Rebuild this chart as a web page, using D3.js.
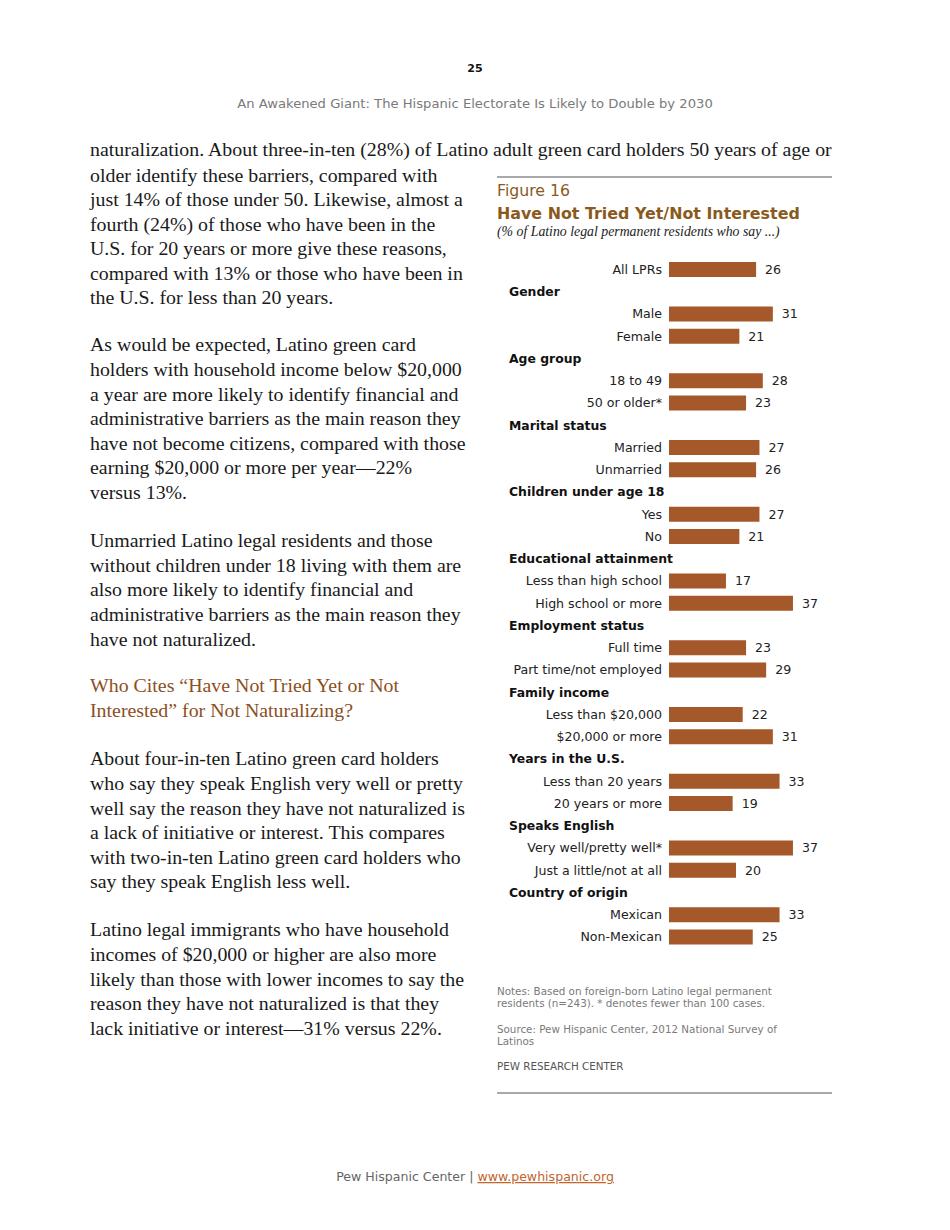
<!DOCTYPE html>
<html><head><meta charset="utf-8">
<script src="https://cdn.jsdelivr.net/npm/d3@7"></script>
<style>html,body{margin:0;padding:0;background:#fff;}svg{display:block;}</style>
</head><body>
<script>
// ---- data ----
const rowLabels = ["All LPRs","Gender","Male","Female","Age group","18 to 49","50 or older*","Marital status","Married","Unmarried","Children under age 18","Yes","No","Educational attainment","Less than high school","High school or more","Employment status","Full time","Part time/not employed","Family income","Less than $20,000","$20,000 or more","Years in the U.S.","Less than 20 years","20 years or more","Speaks English","Very well/pretty well*","Just a little/not at all","Country of origin","Mexican","Non-Mexican"];
const rowValues = [26,null,31,21,null,28,23,null,27,26,null,27,21,null,17,37,null,23,29,null,22,31,null,33,19,null,37,20,null,33,25];
const figureLabel = "Figure 16";
const chartTitle = "Have Not Tried Yet/Not Interested";
const chartSubtitle = "(% of Latino legal permanent residents who say ...)";
const notes = ["Notes: Based on foreign-born Latino legal permanent","residents (n=243). * denotes fewer than 100 cases."];
const source = ["Source: Pew Hispanic Center, 2012 National Survey of","Latinos"];
const credit = "PEW RESEARCH CENTER";
const pageNumber = "25";
const runningHead = "An Awakened Giant: The Hispanic Electorate Is Likely to Double by 2030";
const bodyLines = [
 ["naturalization. About three-in-ten (28%) of Latino adult green card holders 50 years of age or",150,"p"],
 ["older identify these barriers, compared with",176,"p"],
 ["just 14% of those under 50. Likewise, almost a",200,"p"],
 ["fourth (24%) of those who have been in the",225,"p"],
 ["U.S. for 20 years or more give these reasons,",249,"p"],
 ["compared with 13% or those who have been in",274,"p"],
 ["the U.S. for less than 20 years.",298,"p"],
 ["As would be expected, Latino green card",345,"p"],
 ["holders with household income below $20,000",370,"p"],
 ["a year are more likely to identify financial and",395,"p"],
 ["administrative barriers as the main reason they",419,"p"],
 ["have not become citizens, compared with those",444,"p"],
 ["earning $20,000 or more per year\u201422%",468,"p"],
 ["versus 13%.",493,"p"],
 ["Unmarried Latino legal residents and those",541,"p"],
 ["without children under 18 living with them are",566,"p"],
 ["also more likely to identify financial and",590,"p"],
 ["administrative barriers as the main reason they",615,"p"],
 ["have not naturalized.",640,"p"],
 ["Who Cites \u201cHave Not Tried Yet or Not",686,"h"],
 ["Interested\u201d for Not Naturalizing?",711,"h"],
 ["About four-in-ten Latino green card holders",759,"p"],
 ["who say they speak English very well or pretty",784,"p"],
 ["well say the reason they have not naturalized is",809,"p"],
 ["a lack of initiative or interest. This compares",833,"p"],
 ["with two-in-ten Latino green card holders who",858,"p"],
 ["say they speak English less well.",882,"p"],
 ["Latino legal immigrants who have household",930,"p"],
 ["incomes of $20,000 or higher are also more",955,"p"],
 ["likely than those with lower incomes to say the",980,"p"],
 ["reason they have not naturalized is that they",1004,"p"],
 ["lack initiative or interest\u201431% versus 22%.",1029,"p"]
];

const W = 950, H = 1230;
const svg = d3.select("body").append("svg").attr("width", W).attr("height", H);
const sans = "'DejaVu Sans', Verdana, sans-serif";
const serif = "'Liberation Serif', 'DejaVu Serif', Georgia, serif";
const brown = "#8a5a1c";

function fit(sel, target){
  const n = sel.node();
  const fs = parseFloat(sel.attr("font-size"));
  const len = n.getComputedTextLength();
  const ns = fs * target / len;
  sel.attr("font-size", ns.toFixed(2));
  return ns;
}

// page header
svg.append("text").attr("x", 475).attr("y", 72).attr("text-anchor","middle")
  .attr("font-family", sans).attr("font-weight","bold").attr("font-size", 11).attr("fill","#111").text(pageNumber);
const rh = svg.append("text").attr("x", 475).attr("y", 108).attr("text-anchor","middle")
  .attr("font-family", sans).attr("font-size", 13).attr("fill","#7a7a7a").text(runningHead);
fit(rh, 476);

// body text
const bodyG = svg.append("g");
const probe = bodyG.append("text").attr("font-family", serif).attr("font-size", 17).text(bodyLines[0][0]);
const bodySize = fit(probe, 742);
probe.remove();
bodyG.selectAll("text").data(bodyLines).join("text")
  .attr("x", 90).attr("y", d => d[1] + 6)
  .attr("font-family", serif).attr("font-size", bodySize.toFixed(2))
  .attr("fill", d => d[2] === "h" ? "#8c4f22" : "#1a1a1a")
  .text(d => d[0]);

// chart frame
const fx0 = 497, fx1 = 832;
svg.append("line").attr("x1", fx0).attr("x2", fx1).attr("y1", 177).attr("y2", 177).attr("stroke","#555").attr("stroke-width",1);
svg.append("line").attr("x1", fx0).attr("x2", fx1).attr("y1", 1093).attr("y2", 1093).attr("stroke","#555").attr("stroke-width",1);

const fl = svg.append("text").attr("x", fx0).attr("y", 196).attr("font-family", sans).attr("font-size", 15).attr("fill", brown).text(figureLabel);
fit(fl, 73);
const tt = svg.append("text").attr("x", fx0).attr("y", 219).attr("font-family", sans).attr("font-weight","bold").attr("font-size", 16).attr("fill", brown).text(chartTitle);
fit(tt, 303);
const st = svg.append("text").attr("x", fx0).attr("y", 236).attr("font-family", serif).attr("font-style","italic").attr("font-size", 12).attr("fill","#222").text(chartSubtitle);
fit(st, 283);

// scales
const rows = rowLabels.map((l,i) => ({label:l, value:rowValues[i], i}));
const y = d3.scalePoint().domain(d3.range(rows.length)).range([269.5, 937]);
const x = d3.scaleLinear().domain([0, 40]).range([669, 669 + 134]);
const barH = 15;

const chart = svg.append("g");
const items = rows.filter(r => r.value !== null);
const heads = rows.filter(r => r.value === null);

chart.selectAll("rect.bar").data(items).join("rect").attr("class","bar")
  .attr("x", x(0)).attr("y", d => y(d.i) - barH/2)
  .attr("width", d => x(d.value) - x(0)).attr("height", barH)
  .attr("fill", "#a5582a");

chart.selectAll("text.cat").data(items).join("text").attr("class","cat")
  .attr("x", 662).attr("y", d => y(d.i)).attr("dy","0.35em").attr("text-anchor","end")
  .attr("font-family", sans).attr("font-size", 12.6).attr("fill","#222").text(d => d.label);

chart.selectAll("text.val").data(items).join("text").attr("class","val")
  .attr("x", d => x(d.value) + 9).attr("y", d => y(d.i)).attr("dy","0.35em")
  .attr("font-family", sans).attr("font-size", 12.6).attr("fill","#222").text(d => d.value);

chart.selectAll("text.head").data(heads).join("text").attr("class","head")
  .attr("x", 509).attr("y", d => y(d.i)).attr("dy","0.35em")
  .attr("font-family", sans).attr("font-weight","bold").attr("font-size", 12.4).attr("fill","#111").text(d => d.label);

// notes
const noteG = svg.append("g").attr("font-family", sans).attr("fill","#7a7a7a");
const n0 = noteG.append("text").attr("x", fx0).attr("y", 995).attr("font-size", 10).text(notes[0]);
const ns = fit(n0, 275);
noteG.append("text").attr("x", fx0).attr("y", 1007).attr("font-size", ns).text(notes[1]);
noteG.append("text").attr("x", fx0).attr("y", 1033).attr("font-size", ns).text(source[0]);
noteG.append("text").attr("x", fx0).attr("y", 1045).attr("font-size", ns).text(source[1]);
noteG.append("text").attr("x", fx0).attr("y", 1070).attr("font-size", ns).attr("fill","#555").text(credit);

// footer
const ft = svg.append("text").attr("x", 475).attr("y", 1181).attr("text-anchor","middle")
  .attr("font-family", sans).attr("font-size", 12).attr("fill","#666");
ft.append("tspan").text("Pew Hispanic Center | ");
ft.append("tspan").attr("fill","#c0652f").attr("text-decoration","underline").text("www.pewhispanic.org");
fit(ft, 278);
</script>
</body></html>
